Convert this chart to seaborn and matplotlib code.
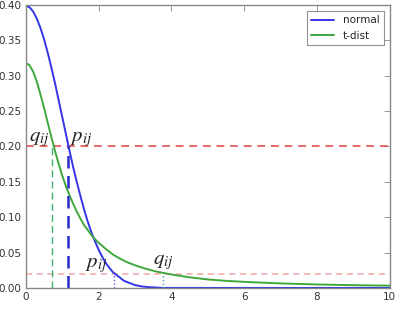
import numpy as np
import pandas as pd
import matplotlib as mpl
mpl.use('Agg')
import matplotlib.pyplot as plt
import seaborn as sns

# values
x_normal = [0.0, 0.1, 0.2, 0.3, 0.4, 0.5, 0.6, 0.7, 0.8, 0.9, 1.0, 1.1, 1.2, 1.3, 1.4,
            1.5, 1.6, 1.7, 1.8, 1.9, 2.0, 2.1, 2.2, 2.3, 2.4, 2.5, 2.6, 2.7, 2.8, 2.9,
            3.0, 3.2, 3.4, 3.6, 3.8, 4.0, 10.0]
y_normal = [0.399, 0.397, 0.391, 0.381, 0.368, 0.352, 0.333, 0.312, 0.290, 0.266, 0.242,
            0.218, 0.194, 0.171, 0.150, 0.130, 0.111, 0.094, 0.079, 0.066, 0.054, 0.044,
            0.035, 0.028, 0.022, 0.018, 0.014, 0.010, 0.008, 0.006, 0.004, 0.002, 0.001,
            0.0005, 0.0, 0.0, 0.0]
x_tdist = [0.0, 0.1, 0.2, 0.3, 0.4, 0.5, 0.6, 0.7, 0.8, 0.9, 1.0, 1.1, 1.2, 1.3, 1.4,
           1.5, 1.6, 1.7, 1.8, 1.9, 2.0, 2.2, 2.4, 2.6, 2.8, 3.0, 3.3, 3.6, 4.0, 4.5,
           5.0, 5.5, 6.0, 7.0, 8.0, 9.0, 10.0]
y_tdist = [0.318, 0.315, 0.306, 0.292, 0.274, 0.255, 0.234, 0.214, 0.194, 0.176, 0.159,
           0.144, 0.131, 0.119, 0.108, 0.098, 0.089, 0.082, 0.075, 0.069, 0.064, 0.055,
           0.047, 0.041, 0.036, 0.032, 0.027, 0.023, 0.019, 0.015, 0.012, 0.010, 0.0086,
           0.0064, 0.0049, 0.0039, 0.0032]

h_levels = [0.20, 0.02]
x_cut_high = {'t': 0.72, 'normal': 1.15}
x_cut_low = {'normal': 2.42, 't': 3.77}

df = pd.concat([
    pd.DataFrame({'x': x_normal, 'y': y_normal, 'dist': 'normal'}),
    pd.DataFrame({'x': x_tdist, 'y': y_tdist, 'dist': 't-dist'}),
])

sns.set_style('white')
plt.rcParams['mathtext.fontset'] = 'stix'
plt.rcParams['font.family'] = ['DejaVu Sans']

fig = plt.figure(figsize=(3.97, 3.14), dpi=100)
ax = fig.add_axes([0.065, 0.083, 0.917, 0.901])

blue = '#3535e8'
green = '#3ea83e'
sns.lineplot(data=df, x='x', y='y', hue='dist', palette={'normal': blue, 't-dist': green},
             lw=1.4, ax=ax, sort=False, estimator=None)

# horizontal thresholds
ax.axhline(h_levels[0], color='#e05050', ls=(0, (4, 3)), lw=1.4, alpha=0.85, zorder=1)
ax.axhline(h_levels[1], color='#f08080', ls=(0, (4, 3)), lw=1.1, alpha=0.7, zorder=1)

# vertical cuts
ax.plot([x_cut_high['t']] * 2, [0, h_levels[0]], color='#40b070', ls=(0, (5, 3)), lw=1.0)
ax.plot([x_cut_high['normal']] * 2, [0, h_levels[0]], color='#2a2acc', ls=(0, (5, 3)), lw=1.8)
ax.plot([x_cut_low['normal']] * 2, [0, h_levels[1]], color='#5050dd', ls=':', lw=1.0)
ax.plot([x_cut_low['t']] * 2, [0, h_levels[1]], color='#40a0a0', ls=':', lw=1.0)

# annotations
ax.text(0.08, 0.208, r'$q_{ij}$', fontsize=15, color='#222222')
ax.text(1.22, 0.208, r'$p_{ij}$', fontsize=15, color='#222222')
ax.text(1.62, 0.029, r'$p_{ij}$', fontsize=15, color='#222222')
ax.text(3.5, 0.033, r'$q_{ij}$', fontsize=15, color='#222222')

ax.set_xlim(0, 10)
ax.set_ylim(0, 0.40)
ax.set_xticks([0, 2, 4, 6, 8, 10])
ax.set_yticks(np.arange(0, 0.41, 0.05))
ax.set_yticklabels(['%.2f' % v for v in np.arange(0, 0.41, 0.05)])
ax.tick_params(direction='in', top=True, right=True, length=4, width=0.6,
               labelsize=7.5, labelcolor='#333333', color='#888888', pad=3)
for s in ax.spines.values():
    s.set_color('#888888')
    s.set_linewidth(1.0)
ax.set_xlabel('')
ax.set_ylabel('')

leg = ax.legend(loc='upper right', fontsize=7.5, frameon=True, fancybox=False,
                handlelength=2.2, borderaxespad=0.6, labelspacing=0.5)
leg.get_frame().set_edgecolor('#777777')
leg.get_frame().set_linewidth(0.8)
leg.set_title(None)

fig.savefig('out.png', dpi=100)
